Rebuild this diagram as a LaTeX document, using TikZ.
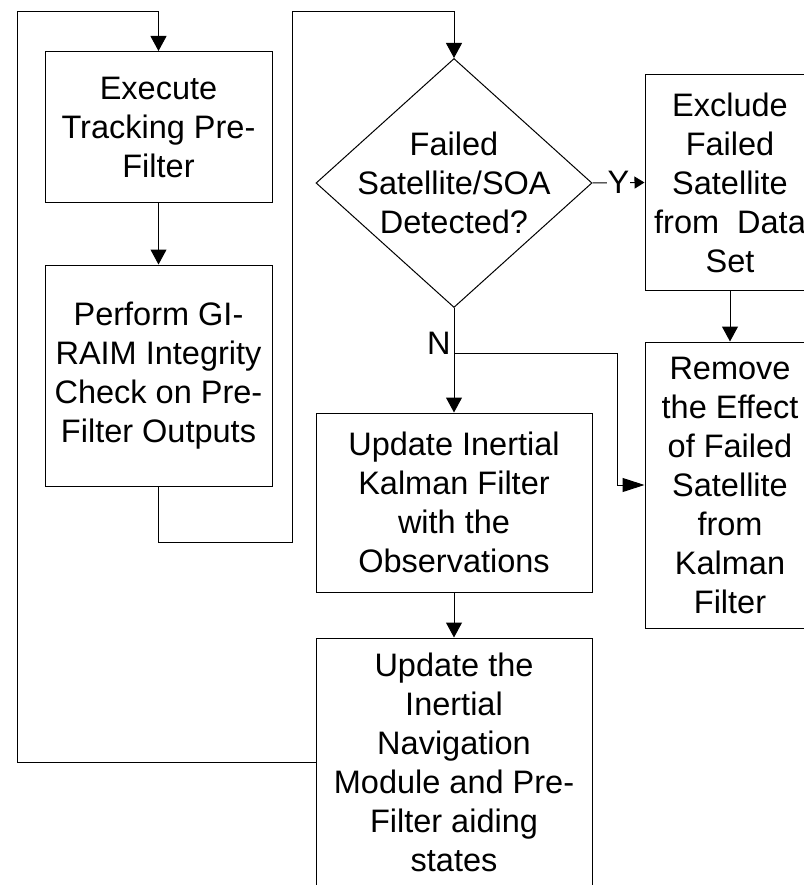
\documentclass[tikz,border=0pt]{standalone}
\usepackage{fontspec}
\setmainfont{Liberation Sans}
\usetikzlibrary{shapes.geometric,arrows.meta}

\tikzset{
  box/.style={draw, rectangle, align=center, inner sep=0pt},
  decision/.style={draw, diamond, inner sep=0pt},
  flow/.style={-{Triangle[length=15pt,width=16pt]}},
  flowsmall/.style={-{Triangle[length=10pt,width=12pt]}},
  flowlong/.style={-{Triangle[length=22pt,width=14pt]}},
}

\begin{document}
\begin{tikzpicture}[x=1pt, y=-1pt, line width=1pt, font=\fontsize{32.5}{39}\selectfont]
\useasboundingbox (0,0) rectangle (803,885);

% left column
\node[box, minimum width=227, minimum height=151] (exec) at (158.5,127) {Execute\\Tracking Pre-\\Filter};
\node[box, minimum width=227, minimum height=221] (raim) at (158.5,375.5) {Perform GI-\\RAIM Integrity\\Check on Pre-\\Filter Outputs};

% decision
\node[decision, minimum width=276, minimum height=249] (dec) at (454,183) {};
\node[align=center, inner sep=0pt] (dectext) at (dec.center) {Failed\\Satellite/SOA\\Detected?};

% middle column
\node[box, minimum width=276, minimum height=179] (kf) at (454,502.5) {Update Inertial\\Kalman Filter\\with the\\Observations};
\node[box, minimum width=276, minimum height=248] (nav) at (454,762) {Update the\\Inertial\\Navigation\\Module and Pre-\\Filter aiding\\states};

% right column
\node[box, minimum width=170, minimum height=215] (excl) at (730,182.5) {Exclude\\Failed\\Satellite\\from~~Data\\Set};
\node[box, minimum width=170, minimum height=286] (remove) at (730,485) {Remove\\the Effect\\of Failed\\Satellite\\from\\Kalman\\Filter};

% connectors
\draw[flow] (exec) -- (raim);
\draw[flow] (raim.south) |- (292,542) -- (292,12) -| (dec.north);
\draw[flowsmall] (dec.east) -- node[fill=white, inner sep=1pt] (ylabel) {Y} (excl.west);
\draw[flow] (excl) -- (remove);
\draw[flow] (dec.south) -- (kf.north);
\node[anchor=east, inner sep=3pt] (nlabel) at (454,343) {N};
\coordinate (split) at (454,353);
\coordinate (bend) at (617,353);
\draw[flowlong] (split) -- (bend) |- (remove.west);
\draw[flow] (kf) -- (nav);
\draw[flow] (nav.west) -| (17,12) -| (exec.north);
\end{tikzpicture}
\end{document}
